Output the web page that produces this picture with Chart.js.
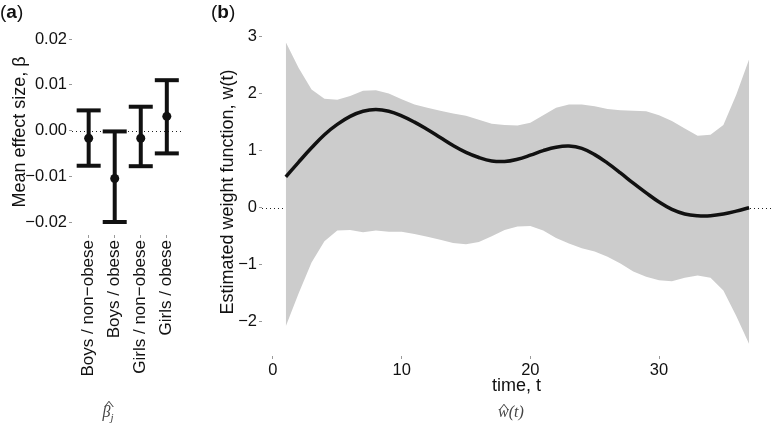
<!DOCTYPE html>
<html>
<head>
<meta charset="utf-8">
<script src="https://cdn.jsdelivr.net/npm/chart.js@4.4.1/dist/chart.umd.min.js"></script>
<style>
  html, body { margin:0; padding:0; background:#fff; }
  #wrap { position:relative; width:771px; height:424px; overflow:hidden; font-family:"Liberation Sans", Arial, sans-serif; color:#111; }
  canvas { position:absolute; top:0; }
  .lab { position:absolute; font-size:19px; line-height:1; }
  .sub { position:absolute; font-family:"Liberation Serif","DejaVu Serif",serif; font-style:italic; font-size:16px; color:#444; transform:translateX(-50%); white-space:nowrap; line-height:1; }
  .hatbox { position:relative; display:inline-block; }
  .hat { position:absolute; left:0; right:0; text-align:center; font-style:normal; font-size:13px; transform:scaleX(1.7); }
</style>
</head>
<body>
<div id="wrap">
  <canvas id="ca" width="200" height="424" style="left:0;width:200px;height:424px"></canvas>
  <canvas id="cb" width="571" height="424" style="left:200px;width:571px;height:424px"></canvas>
  <div class="lab" style="left:0;top:2px">(<b>a</b>)</div>
  <div class="lab" style="left:211px;top:2px">(<b>b</b>)</div>
  <div class="sub" style="left:108px;top:404px"><span class="hatbox">β<span class="hat" style="top:-6px;left:3px">^</span></span><span style="font-size:11px;position:relative;top:4px">j</span></div>
  <div class="sub" style="left:511px;top:404px"><span class="hatbox">w<span class="hat" style="top:-3px;left:1px">^</span></span>(t)</div>
</div>
<script>
// ---------- Panel (a) data ----------
const categories = ['Boys / non\u2212obese', 'Boys / obese', 'Girls / non\u2212obese', 'Girls / obese'];
const betaMean  = [-0.0017, -0.0105, -0.0017, 0.0031];
const betaUpper = [0.0044, -0.0002, 0.0052, 0.0110];
const betaLower = [-0.0077, -0.0200, -0.0078, -0.0050];
const betaTicks = [-0.02, -0.01, 0, 0.01, 0.02];
const betaTickLabels = ['\u22120.02', '\u22120.01', '0.00', '0.01', '0.02'];

// ---------- Panel (b) data ----------
const timePoints = [1,2,3,4,5,6,7,8,9,10,11,12,13,14,15,16,17,18,19,20,21,22,23,24,25,26,27,28,29,30,31,32,33,34,35,36,37];
const wMean  = [0.54,0.80,1.05,1.28,1.46,1.60,1.69,1.72,1.69,1.61,1.50,1.37,1.23,1.09,0.97,0.88,0.82,0.81,0.85,0.92,1.00,1.06,1.08,1.04,0.93,0.78,0.61,0.43,0.26,0.10,-0.03,-0.11,-0.14,-0.14,-0.11,-0.06,0.00];
const wUpper = [2.90,2.45,2.07,1.91,1.89,1.96,2.05,2.06,2.00,1.90,1.81,1.75,1.70,1.65,1.61,1.54,1.47,1.45,1.44,1.49,1.62,1.75,1.81,1.81,1.78,1.73,1.71,1.70,1.69,1.62,1.52,1.39,1.26,1.28,1.45,1.98,2.60];
const wLower = [-2.08,-1.50,-0.96,-0.59,-0.40,-0.39,-0.43,-0.40,-0.42,-0.42,-0.46,-0.51,-0.56,-0.62,-0.64,-0.60,-0.50,-0.39,-0.33,-0.32,-0.40,-0.53,-0.63,-0.71,-0.77,-0.86,-0.98,-1.12,-1.21,-1.27,-1.29,-1.23,-1.19,-1.23,-1.45,-1.90,-2.39];
const wTicks = [-2, -1, 0, 1, 2, 3];
const wTickLabels = ['\u22122', '\u22121', '0', '1', '2', '3'];
const timeTicks = [0, 10, 20, 30];
const timeTickLabels = ['0', '10', '20', '30'];

const FONT = '"Liberation Sans", Arial, Helvetica, sans-serif';
const INK = '#111';
Chart.defaults.font.family = FONT;
Chart.defaults.color = INK;

const zeroLine = {
  id: 'zeroLine',
  beforeDatasetsDraw(chart) {
    const {ctx, chartArea, scales} = chart;
    const y = Math.round(scales.y.getPixelForValue(0)) + 0.5;
    ctx.save();
    ctx.strokeStyle = '#222';
    ctx.lineWidth = 1;
    ctx.setLineDash([1, 3]);
    ctx.beginPath();
    ctx.moveTo(chartArea.left, y);
    ctx.lineTo(chartArea.right, y);
    ctx.stroke();
    ctx.restore();
  }
};

const tickGrid = { display: true, drawOnChartArea: false, drawTicks: true, tickLength: 3, color: '#999' };

// ---------- Panel (a) ----------
const aDatasets = [];
aDatasets.push({
  type: 'scatter',
  data: categories.map((c, i) => ({x: i + 1, y: betaMean[i]})),
  pointRadius: 4.5, pointBackgroundColor: INK, pointBorderColor: INK, pointBorderWidth: 0,
  order: 0
});
aDatasets.push({
  type: 'scatter',
  data: categories.flatMap((c, i) => [{x: i + 1, y: betaUpper[i]}, {x: i + 1, y: betaLower[i]}]),
  pointStyle: 'line', pointRadius: 12, pointBorderColor: INK, pointBorderWidth: 4,
  order: 1
});
categories.forEach((c, i) => {
  aDatasets.push({
    type: 'scatter',
    showLine: true,
    data: [{x: i + 1, y: betaLower[i]}, {x: i + 1, y: betaUpper[i]}],
    borderColor: INK, borderWidth: 4, pointRadius: 0,
    order: 2
  });
});

new Chart(document.getElementById('ca'), {
  type: 'scatter',
  data: { datasets: aDatasets },
  options: {
    responsive: false, animation: false, devicePixelRatio: 1,
    layout: { padding: { top: 29, right: 13, left: 0, bottom: 0 } },
    plugins: { legend: { display: false }, tooltip: { enabled: false } },
    scales: {
      x: {
        type: 'linear', min: 0.36, max: 4.66,
        afterFit: s => { s.height = 189; },
        afterBuildTicks: s => { s.ticks = categories.map((c, i) => ({value: i + 1})); },
        ticks: { minRotation: 90, maxRotation: 90, padding: 2, autoSkip: false,
          font: { size: 17 }, color: INK,
          callback: (v) => categories[v - 1] },
        grid: tickGrid, border: { display: false }
      },
      y: {
        min: -0.02284, max: 0.02219,
        afterFit: s => { s.width = 72; },
        afterBuildTicks: s => { s.ticks = betaTicks.map(v => ({value: v})); },
        ticks: { padding: 2, font: { size: 16.5 }, color: INK,
          callback: (v) => betaTickLabels[betaTicks.findIndex(t => Math.abs(t - v) < 1e-9)] },
        grid: tickGrid, border: { display: false },
        title: { display: true, text: 'Mean effect size, \u03b2', font: { size: 18 }, color: INK, padding: { top: 9, bottom: 0 } }
      }
    }
  },
  plugins: [zeroLine]
});

// ---------- Panel (b) ----------
new Chart(document.getElementById('cb'), {
  type: 'line',
  data: {
    labels: timePoints,
    datasets: [
      { data: timePoints.map((t, i) => ({x: t, y: wMean[i]})), borderColor: INK, borderWidth: 3.5, pointRadius: 0, tension: 0.4, fill: false, order: 0 },
      { data: timePoints.map((t, i) => ({x: t, y: wUpper[i]})), borderWidth: 0, borderColor: 'rgba(0,0,0,0)', pointRadius: 0, tension: 0, fill: '+1', backgroundColor: '#cccccc', order: 1 },
      { data: timePoints.map((t, i) => ({x: t, y: wLower[i]})), borderWidth: 0, borderColor: 'rgba(0,0,0,0)', pointRadius: 0, tension: 0, fill: false, order: 2 }
    ]
  },
  options: {
    responsive: false, animation: false, devicePixelRatio: 1,
    layout: { padding: { top: 28, right: 0, left: 0, bottom: 0 } },
    plugins: { legend: { display: false }, tooltip: { enabled: false }, filler: { propagate: false } },
    scales: {
      x: {
        type: 'linear', min: -0.85, max: 38.7,
        afterFit: s => { s.height = 68; },
        afterBuildTicks: s => { s.ticks = timeTicks.map(v => ({value: v})); },
        ticks: { padding: 2, maxRotation: 0, font: { size: 16.5 }, color: INK,
          callback: (v) => timeTickLabels[timeTicks.indexOf(v)] },
        grid: tickGrid, border: { display: false },
        title: { display: true, text: 'time, t', font: { size: 18 }, color: INK, padding: { top: 0, bottom: 27 } }
      },
      y: {
        min: -2.6, max: 3.15,
        afterFit: s => { s.width = 62; },
        afterBuildTicks: s => { s.ticks = wTicks.map(v => ({value: v})); },
        ticks: { padding: 2, font: { size: 16.5 }, color: INK,
          callback: (v) => wTickLabels[wTicks.indexOf(v)] },
        grid: tickGrid, border: { display: false },
        title: { display: true, text: 'Estimated weight function, w(t)', font: { size: 18 }, color: INK, padding: { top: 17, bottom: 0 } }
      }
    }
  },
  plugins: [zeroLine]
});
</script>
</body>
</html>
